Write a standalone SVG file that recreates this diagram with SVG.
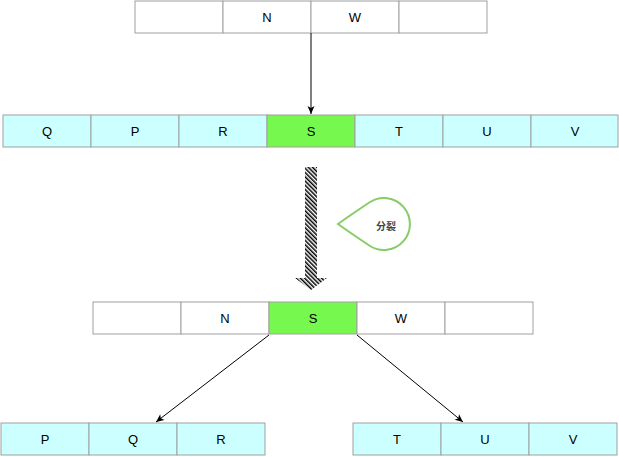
<svg xmlns="http://www.w3.org/2000/svg" width="619" height="457" viewBox="0 0 619 457">
<style>
.c{stroke:#a0a0a0;stroke-width:1}
.w{fill:#ffffff}
.b{fill:#ccffff}
.g{fill:#77f84f}
text{font-family:"Liberation Sans",Arial,sans-serif;font-size:13px;fill:#000;text-anchor:middle;dominant-baseline:central}
.ln{stroke:#000;stroke-width:1;fill:none}
</style>
<defs>
<marker id="ah" markerWidth="10" markerHeight="10" refX="9" refY="5" orient="auto" markerUnits="userSpaceOnUse">
<path d="M1,1.5 L9,5 L1,8.5 L3,5 Z" fill="#000"/>
</marker>
<pattern id="hatch" width="3" height="3" patternUnits="userSpaceOnUse" patternTransform="rotate(-45)">
<rect width="3" height="3" fill="#fff"/>
<rect width="1.5" height="3" fill="#000"/>
</pattern>
</defs>
<g id="top-row">
<rect class="c w" x="135" y="1" width="88" height="32"/>
<rect class="c w" x="223" y="1" width="88" height="32"/><text x="267" y="17">N</text>
<rect class="c w" x="311" y="1" width="88" height="32"/><text x="355" y="17">W</text>
<rect class="c w" x="399" y="1" width="88" height="32"/>
</g>
<g id="mid-row">
<rect class="c b" x="3" y="115" width="88" height="32"/><text x="47" y="131">Q</text>
<rect class="c b" x="91" y="115" width="88" height="32"/><text x="135" y="131">P</text>
<rect class="c b" x="179" y="115" width="88" height="32"/><text x="223" y="131">R</text>
<rect class="c g" x="267" y="115" width="88" height="32"/><text x="311" y="131">S</text>
<rect class="c b" x="355" y="115" width="88" height="32"/><text x="399" y="131">T</text>
<rect class="c b" x="443" y="115" width="88" height="32"/><text x="487" y="131">U</text>
<rect class="c b" x="531" y="115" width="87" height="32"/><text x="575" y="131">V</text>
</g>
<g id="split-arrow">
<path d="M305,167 L317,167 L317,278 L327,278 L311,290 L295,278 L305,278 Z" fill="url(#hatch)"/>
</g>
<g id="bubble">
<path d="M338,224 Q352,214 369.3,202.5 A26,26 0 1,1 369.3,245.5 Q352,234 338,224 Z" fill="#fff" stroke="#88cc66" stroke-width="2"/>
<text x="386" y="225" style="font-size:10px;font-weight:bold;fill:#444;font-family:'Noto Sans CJK SC',sans-serif">分裂</text>
</g>
<g id="new-row">
<rect class="c w" x="93" y="302" width="88" height="32"/>
<rect class="c w" x="181" y="302" width="88" height="32"/><text x="225" y="318">N</text>
<rect class="c g" x="269" y="302" width="88" height="32"/><text x="313" y="318">S</text>
<rect class="c w" x="357" y="302" width="88" height="32"/><text x="401" y="318">W</text>
<rect class="c w" x="445" y="302" width="88" height="32"/>
</g>
<g id="left-row">
<rect class="c b" x="1" y="423" width="88" height="32"/><text x="45" y="439">P</text>
<rect class="c b" x="89" y="423" width="88" height="32"/><text x="133" y="439">Q</text>
<rect class="c b" x="177" y="423" width="88" height="32"/><text x="221" y="439">R</text>
</g>
<g id="right-row">
<rect class="c b" x="353" y="423" width="88" height="32"/><text x="397" y="439">T</text>
<rect class="c b" x="441" y="423" width="88" height="32"/><text x="485" y="439">U</text>
<rect class="c b" x="529" y="423" width="88" height="32"/><text x="573" y="439">V</text>
</g>
<g id="connectors">
<line class="ln" x1="311" y1="33" x2="311" y2="114" marker-end="url(#ah)"/>
<line class="ln" x1="269" y1="335" x2="156" y2="422" marker-end="url(#ah)"/>
<line class="ln" x1="357" y1="335" x2="463" y2="422" marker-end="url(#ah)"/>
</g>
</svg>
